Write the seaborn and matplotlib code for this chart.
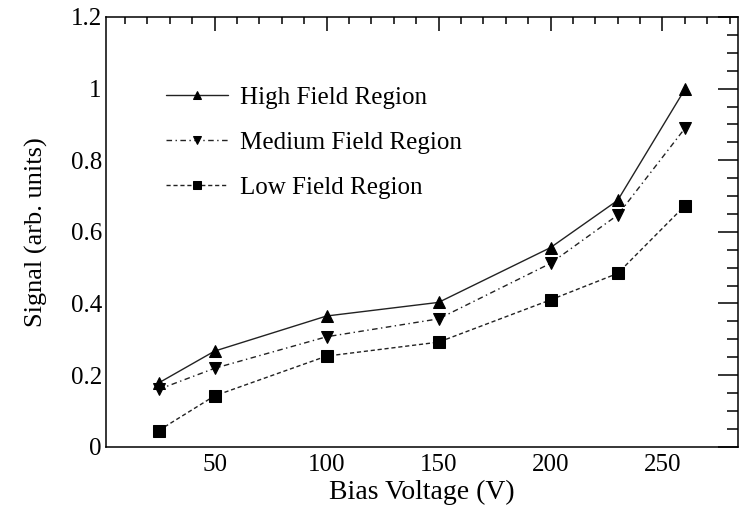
import matplotlib
matplotlib.use("Agg")
import matplotlib.pyplot as plt
from matplotlib.ticker import MultipleLocator, FuncFormatter
import seaborn as sns
import pandas as pd

# Bias voltage scan: collected signal in three field regions
bias_voltage = [25, 50, 100, 150, 200, 230, 260]
high_field = [0.178, 0.267, 0.365, 0.403, 0.556, 0.688, 0.998]
medium_field = [0.160, 0.219, 0.307, 0.357, 0.512, 0.647, 0.889]
low_field = [0.045, 0.142, 0.253, 0.292, 0.410, 0.484, 0.673]
series_names = ["High Field Region", "Medium Field Region", "Low Field Region"]

sns.set_theme(style="white")
plt.rcParams["font.family"] = ["Liberation Serif", "DejaVu Serif"]

fig = plt.figure(figsize=(7.39, 5.05), dpi=100)
ax = fig.add_axes([106 / 739, 1 - 446.7 / 505, 631.5 / 739, 429.7 / 505])

styles = [
    dict(linestyle="-", marker="^"),
    dict(linestyle=(0, (4, 2.5, 1, 2.5)), marker="v"),
    dict(linestyle=(0, (3, 2)), marker="s"),
]
for name, values, st in zip(series_names, [high_field, medium_field, low_field], styles):
    df = pd.DataFrame({"x": bias_voltage, "y": values})
    sns.lineplot(data=df, x="x", y="y", ax=ax, color="#222222", linewidth=1.0,
                 linestyle=st["linestyle"], marker=st["marker"], markersize=8,
                 markerfacecolor="black", markeredgecolor="black", label=name)

ax.set_xlim(1.5, 283.5)
ax.set_ylim(0, 1.2)
ax.xaxis.set_major_locator(MultipleLocator(50))
ax.xaxis.set_minor_locator(MultipleLocator(10))
ax.yaxis.set_major_locator(MultipleLocator(0.2))
ax.yaxis.set_minor_locator(MultipleLocator(0.05))
ax.xaxis.set_major_formatter(FuncFormatter(lambda v, p: "" if v <= 0 else f"{v:g}"))
ax.yaxis.set_major_formatter(FuncFormatter(lambda v, p: f"{v:g}"))

for s in ax.spines.values():
    s.set_color("black")
    s.set_linewidth(1.1)

ax.tick_params(axis="both", which="both", direction="in", top=True, right=True,
               color="black", width=1.1, labelsize=18, labelcolor="black")
ax.tick_params(axis="y", which="major", length=14.5, pad=3)
ax.tick_params(axis="y", which="minor", length=8)
ax.tick_params(axis="x", which="major", length=10, pad=5)
ax.tick_params(axis="x", which="minor", length=5)

ax.set_xlabel("Bias Voltage (V)", fontsize=20, color="black", labelpad=3)
ax.set_ylabel("Signal (arb. units)", fontsize=19, color="black", labelpad=16)

leg = ax.legend(loc="center left", bbox_to_anchor=(0.095, 0.707), frameon=False,
                fontsize=18, handlelength=2.5, handletextpad=0.45,
                labelspacing=0.9, borderaxespad=0, borderpad=0)
for t in leg.get_texts():
    t.set_color("black")
for h in leg.legend_handles:
    h.set_markersize(6)

fig.savefig("out.png", dpi=100)
